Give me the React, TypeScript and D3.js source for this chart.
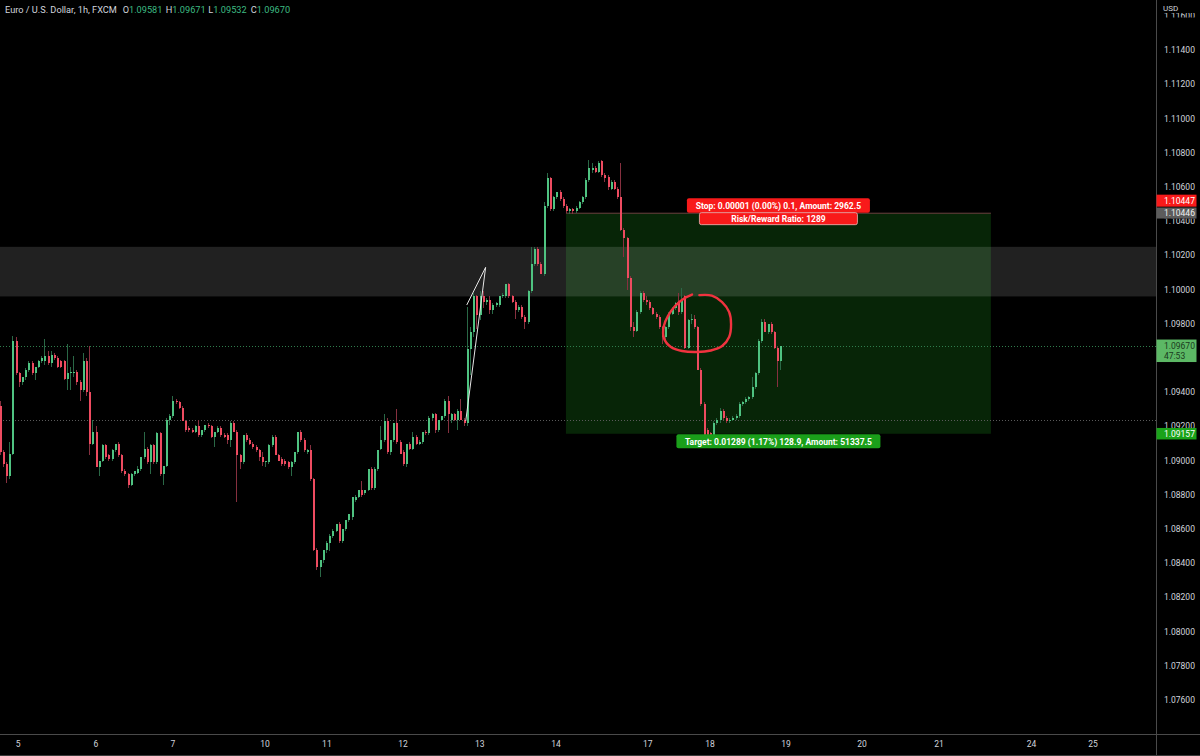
import React from 'react';
import * as d3 from 'd3';

type C = [number, number, number, number]; // open, high, low, close

// Candles: Thu 4 (tail) .. Fri 5 .. Mon 10 (part)
const candlesA: C[] = [
  [1.0932,1.0935,1.0903,1.0905],[1.0905,1.0906,1.0896,1.0898],[1.0898,1.0899,1.0887,1.0891],[1.0891,1.0911,1.0889,1.0904],
  [1.0904,1.0973,1.0903,1.0970],[1.0970,1.0972,1.0950,1.0951],[1.0951,1.0952,1.0943,1.0946],[1.0946,1.0949,1.0944,1.0949],
  [1.0949,1.0954,1.0947,1.0953],[1.0953,1.0958,1.0952,1.0957],[1.0957,1.0958,1.0950,1.0951],[1.0951,1.0955,1.0947,1.0955],
  [1.0955,1.0959,1.0954,1.0958],[1.0958,1.0961,1.0957,1.0960],[1.0958,1.0971,1.0956,1.0961],[1.0961,1.0964,1.0956,1.0957],
  [1.0957,1.0964,1.0955,1.0962],[1.0962,1.0963,1.0959,1.0960],[1.0960,1.0961,1.0954,1.0955],[1.0958,1.0959,1.0954,1.0955],
  [1.0958,1.0959,1.0947,1.0948],[1.0948,1.0968,1.0941,1.0951],[1.0951,1.0955,1.0941,1.0952],[1.0951,1.0961,1.0949,1.0952],
  [1.0952,1.0953,1.0944,1.0946],[1.0946,1.0947,1.0935,1.0941],[1.0941,1.0963,1.0940,1.0958],[1.0958,1.0960,1.0938,1.0940],
  [1.0940,1.0967,1.0903,1.0910],[1.0910,1.0924,1.0909,1.0917],[1.0917,1.0920,1.0896,1.0896],[1.0896,1.0900,1.0891,1.0900],
  [1.0900,1.0910,1.0899,1.0909],[1.0909,1.0910,1.0901,1.0902],[1.0903,1.0904,1.0900,1.0901],[1.0901,1.0907,1.0900,1.0906],
  [1.0906,1.0910,1.0905,1.0910],[1.0910,1.0911,1.0902,1.0903],[1.0903,1.0904,1.0893,1.0894],[1.0894,1.0895,1.0891,1.0892],
  [1.0892,1.0893,1.0884,1.0886],[1.0886,1.0893,1.0885,1.0892],[1.0892,1.0894,1.0891,1.0894],[1.0893,1.0897,1.0892,1.0895],
  [1.0895,1.0902,1.0894,1.0902],[1.0902,1.0917,1.0901,1.0907],[1.0907,1.0908,1.0898,1.0899],[1.0899,1.0910,1.0892,1.0909],
  [1.0909,1.0910,1.0898,1.0899],[1.0899,1.0917,1.0898,1.0916],
];

const candlesB: C[] = [
  [1.0916,1.0917,1.0891,1.0892],[1.0892,1.0897,1.0886,1.0897],[1.0897,1.0925,1.0896,1.0924],[1.0924,1.0927,1.0921,1.0926],
  [1.0926,1.0938,1.0925,1.0935],[1.0935,1.0936,1.0933,1.0934],[1.0934,1.0935,1.0930,1.0931],[1.0931,1.0932,1.0923,1.0923],
  [1.0923,1.0924,1.0917,1.0918],[1.0919,1.0920,1.0917,1.0918],[1.0918,1.0919,1.0916,1.0917],[1.0917,1.0921,1.0916,1.0920],
  [1.0920,1.0924,1.0914,1.0915],[1.0915,1.0918,1.0914,1.0918],[1.0918,1.0921,1.0917,1.0921],[1.0921,1.0922,1.0919,1.0920],
  [1.0920,1.0921,1.0913,1.0914],[1.0914,1.0917,1.0908,1.0917],[1.0917,1.0920,1.0916,1.0919],[1.0919,1.0920,1.0914,1.0915],
  [1.0915,1.0916,1.0913,1.0914],[1.0915,1.0916,1.0910,1.0912],[1.0912,1.0923,1.0908,1.0922],[1.0922,1.0923,1.0917,1.0917],
  [1.0917,1.0918,1.0876,1.0903],[1.0903,1.0904,1.0895,1.0899],[1.0899,1.0915,1.0898,1.0915],[1.0915,1.0916,1.0911,1.0912],
  [1.0912,1.0913,1.0909,1.0910],[1.0910,1.0911,1.0907,1.0908],[1.0908,1.0909,1.0905,1.0906],[1.0906,1.0907,1.0900,1.0902],
  [1.0902,1.0905,1.0897,1.0899],[1.0899,1.0900,1.0896,1.0900],[1.0899,1.0910,1.0898,1.0909],[1.0909,1.0915,1.0908,1.0914],
  [1.0914,1.0915,1.0903,1.0903],[1.0903,1.0904,1.0900,1.0900],[1.0901,1.0902,1.0897,1.0898],[1.0900,1.0901,1.0897,1.0898],
  [1.0899,1.0900,1.0895,1.0896],[1.0896,1.0900,1.0891,1.0899],[1.0899,1.0905,1.0898,1.0905],[1.0905,1.0917,1.0904,1.0917],
  [1.0917,1.0918,1.0911,1.0912],[1.0912,1.0913,1.0905,1.0906],[1.0905,1.0907,1.0904,1.0906],[1.0906,1.0909,1.0888,1.0889],
  [1.0889,1.0890,1.0847,1.0848],
];

const candlesC: C[] = [
  [1.0848,1.0849,1.0836,1.0838],[1.0838,1.0842,1.0832,1.0842],[1.0842,1.0848,1.0840,1.0848],[1.0848,1.0853,1.0846,1.0852],
  [1.0852,1.0857,1.0847,1.0856],[1.0856,1.0860,1.0855,1.0859],[1.0859,1.0863,1.0858,1.0863],[1.0863,1.0864,1.0852,1.0853],
  [1.0853,1.0860,1.0852,1.0860],[1.0860,1.0865,1.0859,1.0865],[1.0865,1.0869,1.0864,1.0869],[1.0867,1.0879,1.0865,1.0879],
  [1.0877,1.0880,1.0876,1.0879],[1.0879,1.0883,1.0878,1.0883],[1.0883,1.0888,1.0879,1.0880],[1.0881,1.0883,1.0880,1.0883],
  [1.0883,1.0895,1.0882,1.0895],[1.0895,1.0896,1.0883,1.0884],[1.0884,1.0896,1.0883,1.0895],[1.0895,1.0906,1.0894,1.0906],
  [1.0907,1.0920,1.0906,1.0912],[1.0912,1.0927,1.0911,1.0923],[1.0923,1.0925,1.0904,1.0905],[1.0905,1.0912,1.0903,1.0912],
  [1.0912,1.0922,1.0911,1.0922],[1.0922,1.0930,1.0910,1.0911],[1.0911,1.0912,1.0904,1.0904],[1.0905,1.0906,1.0897,1.0898],
  [1.0898,1.0910,1.0896,1.0910],[1.0910,1.0911,1.0906,1.0907],[1.0907,1.0917,1.0906,1.0914],[1.0914,1.0915,1.0909,1.0910],
  [1.0910,1.0912,1.0909,1.0911],[1.0911,1.0917,1.0910,1.0917],[1.0917,1.0918,1.0915,1.0916],[1.0916,1.0926,1.0915,1.0925],
  [1.0925,1.0928,1.0924,1.0927],[1.0927,1.0928,1.0916,1.0918],[1.0918,1.0924,1.0917,1.0924],[1.0924,1.0926,1.0923,1.0926],
  [1.0926,1.0936,1.0925,1.0935],[1.0935,1.0938,1.0916,1.0927],[1.0924,1.0928,1.0922,1.0927],[1.0927,1.0928,1.0923,1.0924],
  [1.0924,1.0930,1.0918,1.0929],[1.0929,1.0936,1.0924,1.0924],[1.0924,1.0925,1.0920,1.0922],[1.0922,1.0990,1.0920,1.0965],
];

const candlesD: C[] = [
  [1.0965,1.0978,1.0950,1.0975],[1.0975,1.0998,1.0972,1.0996],[1.0996,1.0997,1.0977,1.0985],[1.0985,1.0999,1.0982,1.0996],
  [1.0996,1.0999,1.0989,1.0993],[1.0993,1.0995,1.0991,1.0994],[1.0994,1.0996,1.0986,1.0988],[1.0988,1.0992,1.0986,1.0991],
  [1.0991,1.0993,1.0990,1.0992],[1.0991,1.0996,1.0990,1.0996],[1.0996,1.0998,1.0995,1.0997],[1.0996,1.1003,1.0995,1.1003],
  [1.1003,1.1004,1.0995,1.0996],[1.0996,1.0997,1.0992,1.0993],[1.0993,1.0994,1.0983,1.0988],[1.0988,1.0991,1.0987,1.0990],
  [1.0990,1.0991,1.0983,1.0984],[1.0984,1.0985,1.0977,1.0981],[1.0981,1.1000,1.0980,1.0999],[1.0999,1.1025,1.0998,1.1015],
  [1.1015,1.1025,1.1014,1.1024],[1.1024,1.1025,1.1014,1.1015],[1.1015,1.1016,1.1009,1.1009],[1.1009,1.1051,1.1008,1.1049],
  [1.1049,1.1068,1.1048,1.1065],[1.1065,1.1066,1.1046,1.1047],[1.1047,1.1055,1.1046,1.1054],[1.1054,1.1057,1.1053,1.1057],
  [1.1057,1.1058,1.1052,1.1053],[1.1053,1.1054,1.1048,1.1049],[1.1049,1.1050,1.1045,1.1046],[1.1046,1.1048,1.1044,1.1047],
  [1.1047,1.1048,1.1044,1.1046],[1.1046,1.1049,1.1045,1.1048],[1.1048,1.1052,1.1047,1.1051],[1.1051,1.1055,1.1050,1.1054],
  [1.1054,1.1065,1.1053,1.1064],[1.1064,1.1076,1.1063,1.1071],[1.1070,1.1074,1.1068,1.1071],[1.1071,1.1072,1.1068,1.1069],
  [1.1069,1.1075,1.1068,1.1074],[1.1075,1.1076,1.1066,1.1067],[1.1067,1.1068,1.1063,1.1065],[1.1066,1.1067,1.1058,1.1060],
  [1.1059,1.1064,1.1058,1.1063],[1.1063,1.1064,1.1058,1.1059],[1.1059,1.1060,1.1053,1.1054],[1.1054,1.1074,1.1034,1.1035],
  [1.1035,1.1036,1.1019,1.1030],[1.1030,1.1031,1.1000,1.1007],[1.1007,1.1008,1.0976,1.0978],
];

const candlesE: C[] = [
  [1.0978,1.0981,1.0972,1.0976],[1.0976,1.0988,1.0975,1.0987],[1.0987,1.0999,1.0986,1.0998],[1.0998,1.0999,1.0993,1.0994],
  [1.0994,1.0996,1.0991,1.0993],[1.0993,1.0994,1.0988,1.0989],[1.0989,1.0990,1.0985,1.0986],[1.0986,1.0987,1.0983,1.0984],
  [1.0984,1.0985,1.0977,1.0978],[1.0978,1.0979,1.0968,1.0972],[1.0972,1.0979,1.0970,1.0978],[1.0978,1.0987,1.0977,1.0986],
  [1.0986,1.0990,1.0985,1.0989],[1.0989,1.0993,1.0988,1.0992],[1.0992,1.0998,1.0985,1.0987],[1.0987,1.1001,1.0986,1.0994],
  [1.0996,1.0997,1.0965,1.0966],[1.0966,1.0983,1.0965,1.0982],[1.0982,1.0986,1.0980,1.0983],[1.0983,1.0985,1.0977,1.0978],
  [1.0978,1.0979,1.0953,1.0953],[1.0953,1.0954,1.0932,1.0933],[1.0933,1.0934,1.0913,1.0914],[1.0918,1.0919,1.0911,1.0914],
  [1.0916,1.0917,1.0910,1.0914],[1.0914,1.0923,1.0912,1.0922],[1.0922,1.0925,1.0921,1.0924],[1.0924,1.0931,1.0922,1.0929],
  [1.0929,1.0930,1.0924,1.0925],[1.0925,1.0926,1.0922,1.0923],[1.0923,1.0925,1.0922,1.0924],[1.0924,1.0926,1.0923,1.0925],
  [1.0925,1.0927,1.0924,1.0926],[1.0926,1.0934,1.0925,1.0933],[1.0933,1.0935,1.0932,1.0934],[1.0934,1.0937,1.0933,1.0936],
  [1.0936,1.0938,1.0935,1.0937],[1.0937,1.0949,1.0936,1.0943],[1.0943,1.0952,1.0942,1.0951],[1.0951,1.0971,1.0950,1.0970],
  [1.0970,1.0983,1.0969,1.0981],[1.0981,1.0983,1.0975,1.0975],[1.0975,1.0980,1.0974,1.0980],[1.0980,1.0981,1.0974,1.0975],
  [1.0975,1.0976,1.0965,1.0966],[1.0966,1.0967,1.0943,1.0958],[1.09581,1.09671,1.09532,1.09670],
];

const candles: C[] = [...candlesA, ...candlesB, ...candlesC, ...candlesD, ...candlesE];

// Price-axis ticks (1.09600 sits fully under the last-price tag; 1.09200 and 1.10400 are partly covered)
const priceTicks = [1.076,1.078,1.080,1.082,1.084,1.086,1.088,1.090,1.094,1.098,1.100,1.102,1.106,1.108,1.110,1.112,1.114];
const partialTicksBelowTag = [1.104];
const partialTicksAboveTag = [1.092];
const topPartialTick = 1.116;

const dayLabels = ['5','6','7','10','11','12','13','14','17','18','19','20','21','24','25'];
const dayIndex = [5.5,29.8,53.9,82.7,102,125.8,149.8,173.6,202.3,221.7,245.5,269.2,293.3,322.2,341.4];

// Short position tool
const posStartIdx = 176.7;
const posEndIdx = 309.5;
const entryPrice = 1.10446;
const stopPrice = 1.10447;
const targetPrice = 1.09157;
const stopText1 = 'Stop: 0.00001 (0.00%) 0.1, Amount: 2962.5';
const stopText2 = 'Risk/Reward Ratio: 1289';
const targetText = 'Target: 0.01289 (1.17%) 128.9, Amount: 51337.5';

// Rectangle zone
const zoneTop = 1.1025;
const zoneBottom = 1.0996;

// Horizontal dotted lines
const lastPrice = 1.0967;
const hLinePrice = 1.0924;

// Drawings: [barIndex, price]
const trianglePts: [number, number][] = [[145.4,1.09232],[151.6,1.10130],[145.7,1.09910]];
const circlePts: [number, number][] = [
  [218.4,1.09968],[222.3,1.09965],[225.5,1.09927],[227.7,1.09869],[228.3,1.09799],[227.7,1.09723],
  [225.5,1.09670],[222.0,1.09644],[217.7,1.09635],[213.0,1.09641],[209.5,1.09664],[207.3,1.09717],
  [207.3,1.09787],[208.6,1.09846],[210.8,1.09904],[213.6,1.09948],[216.1,1.09971],
];

const header = 'Euro / U.S. Dollar, 1h, FXCM';
const ohlcLabels = ['O','H','L','C'];
const ohlcValues = ['1.09581','1.09671','1.09532','1.09670'];

export default function App() {
  const W = 1200, H = 756;
  const plotRight = 1156, plotBottom = 734;
  const x = d3.scaleLinear().domain([0, 361]).range([0.5, 0.5 + 3.2 * 361]);
  const y = d3.scaleLinear().domain([1.076, 1.116]).range([700, 16]);
  const font = 'Roboto, "Liberation Sans", sans-serif';
  const fs = 8.5;
  const fmt = d3.format('.5f');

  const greenBody = '#4fc381', redBody = '#ee4b60';
  const greenWick = '#2a6846', redWick = '#86303f';

  const line = d3.line<[number, number]>().x(d => x(d[0])).y(d => y(d[1]));
  const circleLine = d3.line<[number, number]>().x(d => x(d[0])).y(d => y(d[1])).curve(d3.curveCatmullRom.alpha(0.5));

  const px0 = x(posStartIdx), px1 = x(posEndIdx);
  const pcx = (px0 + px1) / 2;

  const ohlcX = [122.7, 165.7, 208.3, 250.7];

  return (
    <svg width={W} height={H} style={{ position: 'absolute', left: 0, top: 0, display: 'block', background: '#000' }} fontFamily={font}>
      <defs>
        <clipPath id="plotClip"><rect x={0} y={0} width={plotRight} height={plotBottom} /></clipPath>
        <clipPath id="topTickClip"><rect x={1157} y={13} width={43} height={4.5} /></clipPath>
        <clipPath id="belowEntryTag"><rect x={1157} y={y(entryPrice) + 5.2} width={43} height={6} /></clipPath>
        <clipPath id="aboveTargetTag"><rect x={1157} y={y(targetPrice) - 12} width={43} height={6.2} /></clipPath>
      </defs>
      <rect x={0} y={0} width={W} height={H} fill="#000" />

      <g clipPath="url(#plotClip)">
        {/* position profit area */}
        <rect x={px0} y={y(entryPrice)} width={px1 - px0} height={y(targetPrice) - y(entryPrice)} fill="#072507" />
        <rect x={px0} y={y(stopPrice) - 0.5} width={px1 - px0} height={1.2} fill="#5a3a36" />
        {/* zone */}
        <rect x={0} y={y(zoneTop)} width={plotRight} height={y(zoneBottom) - y(zoneTop)} fill="rgba(255,255,255,0.13)" />
        {/* dotted lines */}
        <line x1={0} x2={plotRight} y1={Math.round(y(lastPrice)) + 0.5} y2={Math.round(y(lastPrice)) + 0.5} stroke="#2f7d4c" strokeDasharray="1,2" />
        <line x1={0} x2={plotRight} y1={Math.round(y(hLinePrice)) + 0.5} y2={Math.round(y(hLinePrice)) + 0.5} stroke="#5a5a5a" strokeDasharray="1,2" />

        {/* candles */}
        <g shapeRendering="crispEdges">
          {candles.map((c, i) => {
            const cx = Math.round(x(i));
            const up = c[3] >= c[0];
            return <rect key={'w' + i} x={cx - 1} y={y(c[1])} width={1} height={Math.max(1, y(c[2]) - y(c[1]))} fill={up ? greenWick : redWick} />;
          })}
          {candles.map((c, i) => {
            const cx = Math.round(x(i));
            const up = c[3] >= c[0];
            const top = y(Math.max(c[0], c[3]));
            const h = Math.max(1, Math.abs(y(c[0]) - y(c[3])));
            return <rect key={'b' + i} x={cx - 1} y={top} width={2} height={h} fill={up ? greenBody : redBody} />;
          })}
        </g>

        {/* triangle drawing */}
        <path d={line(trianglePts) || ''} fill="none" stroke="#e6e6e6" strokeWidth={1} />
        {/* circle drawing */}
        <path d={circleLine(circlePts) || ''} fill="none" stroke="#f0333f" strokeWidth={2.4} strokeLinecap="round" />

        {/* stop label */}
        <rect x={pcx - 91.5} y={y(stopPrice) - 15} width={183} height={14.5} rx={2} fill="#f81a1a" />
        <rect x={pcx - 79} y={y(stopPrice) - 0.5} width={158} height={12} rx={2} fill="#f81a1a" stroke="#f3b9b9" strokeWidth={0.8} />
        <text x={pcx} y={y(stopPrice) - 4.6} fontSize={fs} fontWeight={700} fill="#fff" textAnchor="middle">{stopText1}</text>
        <text x={pcx} y={y(stopPrice) + 8.7} fontSize={fs} fontWeight={700} fill="#fff" textAnchor="middle">{stopText2}</text>

        {/* target label */}
        <rect x={pcx - 102} y={y(targetPrice) + 0.5} width={204} height={14} rx={2} fill="#1a9f1a" />
        <text x={pcx} y={y(targetPrice) + 10.8} fontSize={fs} fontWeight={700} fill="#fff" textAnchor="middle">{targetText}</text>
      </g>

      {/* header */}
      <text x={5} y={12.5} fontSize={9.2} fill="#d1d4dc">{header}</text>
      {ohlcLabels.map((l, i) => (
        <text key={l} x={ohlcX[i]} y={12.5} fontSize={9.2} fill="#d1d4dc">{l}<tspan fill="#3dbb82">{ohlcValues[i]}</tspan></text>
      ))}

      {/* axes lines */}
      <line x1={plotRight + 0.5} x2={plotRight + 0.5} y1={0} y2={H} stroke="#4a4a4a" />
      <line x1={0} x2={W} y1={plotBottom + 0.5} y2={plotBottom + 0.5} stroke="#4a4a4a" />
      <line x1={0} x2={W} y1={H - 0.5} y2={H - 0.5} stroke="#3a3a3a" />

      {/* price axis */}
      <text x={1163} y={10.5} fontSize={8} fill="#d1d4dc">USD</text>
      <text x={1164} y={y(topPartialTick) + 3} fontSize={fs} fill="#d1d4dc" clipPath="url(#topTickClip)">{fmt(topPartialTick)}</text>
      {priceTicks.map(p => (
        <text key={p} x={1164} y={y(p) + 3} fontSize={fs} fill="#d1d4dc">{fmt(p)}</text>
      ))}
      {partialTicksBelowTag.map(p => (
        <text key={p} x={1164} y={y(p) + 3} fontSize={fs} fill="#d1d4dc" clipPath="url(#belowEntryTag)">{fmt(p)}</text>
      ))}
      {partialTicksAboveTag.map(p => (
        <text key={p} x={1164} y={y(p) + 3} fontSize={fs} fill="#d1d4dc" clipPath="url(#aboveTargetTag)">{fmt(p)}</text>
      ))}

      {/* price tags */}
      <rect x={plotRight + 0.5} y={y(stopPrice) - 18.5} width={40} height={12} fill="#f81a1a" />
      <text x={1164} y={y(stopPrice) - 9.3} fontSize={fs} fill="#fff">{fmt(stopPrice)}</text>
      <rect x={plotRight + 0.5} y={y(entryPrice) - 5.8} width={40} height={11} fill="#5c5c5c" />
      <text x={1164} y={y(entryPrice) + 3} fontSize={fs} fill="#f0f0f0">{fmt(entryPrice)}</text>
      <rect x={plotRight + 0.5} y={y(lastPrice) - 6.5} width={40} height={22.5} fill="#5cb865" />
      <text x={1164} y={y(lastPrice) + 3} fontSize={fs} fill="#1a3a1d">{fmt(lastPrice)}</text>
      <text x={1164} y={y(lastPrice) + 13} fontSize={fs} fill="#1a3a1d">47:53</text>
      <rect x={plotRight + 0.5} y={y(targetPrice) - 5.8} width={40} height={11.5} fill="#1aa31a" />
      <text x={1164} y={y(targetPrice) + 3} fontSize={fs} fill="#fff">{fmt(targetPrice)}</text>

      {/* time axis */}
      {dayLabels.map((d, i) => (
        <text key={d} x={x(dayIndex[i])} y={747} fontSize={fs} fill="#d1d4dc" textAnchor="middle">{d}</text>
      ))}
    </svg>
  );
}
